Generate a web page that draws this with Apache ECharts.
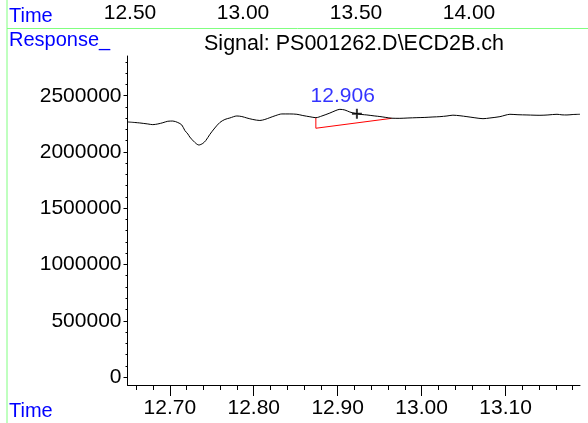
<!DOCTYPE html>
<html><head><meta charset="utf-8">
<script src="https://cdn.jsdelivr.net/npm/echarts@6/dist/echarts.min.js"></script>
<style>html,body{margin:0;padding:0;background:#fff}#c{width:588px;height:423px}</style>
</head><body><div id="c"></div>
<script>
// ---- data ----
const times = [12.6496, 12.6583, 12.6642, 12.6738, 12.6797, 12.6857, 12.6917, 12.6976, 12.7036, 12.7095, 12.7143, 12.7179, 12.7215, 12.7238, 12.7298, 12.7346, 12.7393, 12.7429, 12.7477, 12.7536, 12.7596, 12.7656, 12.7715, 12.7799, 12.7858, 12.7918, 12.7989, 12.8073, 12.8132, 12.8192, 12.8263, 12.8335, 12.8430, 12.8514, 12.8585, 12.8669, 12.8740, 12.8812, 12.8907, 12.8979, 12.9026, 12.9086, 12.9145, 12.9217, 12.9288, 12.9348, 12.9443, 12.9503, 12.9574, 12.9646, 12.9741, 12.9837, 12.9944, 13.0039, 13.0135, 13.0218, 13.0302, 13.0373, 13.0457, 13.0540, 13.0635, 13.0731, 13.0814, 13.0933, 13.0993, 13.1052, 13.1148, 13.1255, 13.1339, 13.1410, 13.1505, 13.1613, 13.1672, 13.1732, 13.1803, 13.1887];
const response = [2267000, 2262000, 2258000, 2249000, 2243000, 2249000, 2260000, 2273000, 2275000, 2262000, 2240000, 2191000, 2160000, 2133000, 2085000, 2062000, 2076000, 2102000, 2156000, 2213000, 2262000, 2289000, 2302000, 2320000, 2315000, 2302000, 2289000, 2280000, 2289000, 2305000, 2324000, 2338000, 2338000, 2335000, 2324000, 2313000, 2305000, 2320000, 2346000, 2369000, 2379000, 2373000, 2355000, 2342000, 2333000, 2329000, 2320000, 2315000, 2307000, 2300000, 2299000, 2302000, 2305000, 2307000, 2311000, 2314000, 2320000, 2327000, 2322000, 2314000, 2304000, 2296000, 2302000, 2314000, 2326000, 2335000, 2331000, 2329000, 2327000, 2326000, 2329000, 2335000, 2330000, 2329000, 2333000, 2335000];
const baselineTimes = [12.874, 12.874, 12.9642];
const baselineValues = [2305000, 2211000, 2299000];
const peakLabel = '12.906';
const peakLabelTime = 12.906;
const peakLabelValue = 2497000;
const crossTime = 12.9229;
const crossValue = 2340000;
const xMajorTicks = [12.70, 12.80, 12.90, 13.00, 13.10];
const xMinorTicks = [12.66, 12.68, 12.72, 12.74, 12.76, 12.78, 12.82, 12.84, 12.86, 12.88, 12.92, 12.94, 12.96, 12.98, 13.02, 13.04, 13.06, 13.08, 13.12, 13.14, 13.16, 13.18];
const yMajorTicks = [0, 500000, 1000000, 1500000, 2000000, 2500000];
const yMinorTicks = [100000, 200000, 300000, 400000, 600000, 700000, 800000, 900000, 1100000, 1200000, 1300000, 1400000, 1600000, 1700000, 1800000, 1900000, 2100000, 2200000, 2300000, 2400000, 2600000, 2700000, 2800000];
const overviewTicks = [12.50, 13.00, 13.50, 14.00];
const titleText = 'Signal: PS001262.D\\ECD2B.ch';
const xName = 'Time';
const yName = 'Response_';

const X_MIN = 12.6496, X_MAX = 13.1887, Y_MIN = -71000, Y_MAX = 2853000;
const FONT = 'Liberation Sans, Arial, sans-serif';
const BLUE = '#0000ff';
const GREEN = '#80ff80';

const chart = echarts.init(document.getElementById('c'), null, {renderer: 'canvas'});
const axisLineStyle = {color: '#000', width: 1};
const xBase = {type: 'value', gridIndex: 0, min: X_MIN, max: X_MAX, position: 'bottom', offset: 0, splitLine: {show: false}};
const yBase = {type: 'value', gridIndex: 0, min: Y_MIN, max: Y_MAX, position: 'left', offset: 0, splitLine: {show: false}};

chart.setOption({
  animation: false,
  backgroundColor: '#fff',
  grid: [
    {left: 127.5, right: 8, top: 56, bottom: 38, containLabel: false},
    {left: 17, right: 6, top: 12, height: 1, containLabel: false}
  ],
  xAxis: [
    Object.assign({}, xBase, {
      axisLine: {show: true, onZero: false, lineStyle: axisLineStyle},
      axisTick: {show: true, inside: false, length: 11, customValues: xMajorTicks, lineStyle: {color: '#000'}},
      axisLabel: {show: true, customValues: xMajorTicks, margin: 13, color: '#000', fontSize: 21, fontFamily: FONT,
                  formatter: v => Number(v).toFixed(2)}
    }),
    Object.assign({}, xBase, {
      axisLine: {show: false, onZero: false},
      axisTick: {show: true, inside: false, length: 5, customValues: xMinorTicks, lineStyle: {color: '#000'}},
      axisLabel: {show: false}
    }),
    {type: 'value', gridIndex: 1, min: 12.0, max: 14.5, position: 'bottom',
     axisLine: {show: false}, axisTick: {show: false}, splitLine: {show: false},
     axisLabel: {show: true, customValues: overviewTicks, margin: 0, verticalAlign: 'middle', color: '#000', fontSize: 21, fontFamily: FONT,
                 formatter: v => Number(v).toFixed(2)}}
  ],
  yAxis: [
    Object.assign({}, yBase, {
      axisLine: {show: true, onZero: false, lineStyle: axisLineStyle},
      axisTick: {show: true, inside: false, length: 4, customValues: yMajorTicks, lineStyle: {color: '#000'}},
      axisLabel: {show: true, customValues: yMajorTicks, margin: 6, color: '#000', fontSize: 21, fontFamily: FONT,
                  formatter: v => String(Math.round(v))}
    }),
    Object.assign({}, yBase, {
      axisLine: {show: false, onZero: false},
      axisTick: {show: true, inside: false, length: 2, customValues: yMinorTicks, lineStyle: {color: '#000'}},
      axisLabel: {show: false}
    }),
    {type: 'value', gridIndex: 1, show: false, min: 0, max: 1}
  ],
  series: [
    {type: 'line', xAxisIndex: 0, yAxisIndex: 0, data: times.map((t, i) => [t, response[i]]),
     symbol: 'none', smooth: 0.3, lineStyle: {color: '#000', width: 1}, silent: true, z: 3},
    {type: 'line', xAxisIndex: 0, yAxisIndex: 0, data: baselineTimes.map((t, i) => [t, baselineValues[i]]),
     symbol: 'none', lineStyle: {color: '#ff0000', width: 1}, silent: true, z: 2},
    {type: 'scatter', xAxisIndex: 0, yAxisIndex: 0, data: [[crossTime, crossValue]],
     symbol: 'path://M4,0h2v10h-2zM0,4h10v2h-10z', symbolSize: 10, itemStyle: {color: '#000'}, silent: true, z: 4},
    {type: 'scatter', xAxisIndex: 0, yAxisIndex: 0, data: [[peakLabelTime, peakLabelValue]],
     symbolSize: 0, silent: true, z: 5,
     label: {show: true, position: 'inside', formatter: peakLabel, color: BLUE, fontSize: 21, fontFamily: FONT}}
  ],
  graphic: [
    {type: 'line', shape: {x1: 7, y1: 0, x2: 7, y2: 423}, style: {stroke: GREEN, lineWidth: 1}, silent: true},
    {type: 'line', shape: {x1: 7, y1: 28.5, x2: 588, y2: 28.5}, style: {stroke: GREEN, lineWidth: 1}, silent: true},
    {type: 'text', x: 9, y: 16.5, style: {text: xName, fill: BLUE, font: '20px ' + FONT, textVerticalAlign: 'middle', verticalAlign: 'middle'}, silent: true},
    {type: 'text', x: 9, y: 40, style: {text: yName, fill: BLUE, font: '20px ' + FONT, textVerticalAlign: 'middle', verticalAlign: 'middle'}, silent: true},
    {type: 'text', x: 354, y: 43.8, style: {text: titleText, fill: '#000', font: '21.5px ' + FONT, textAlign: 'center', align: 'center', textVerticalAlign: 'middle', verticalAlign: 'middle'}, silent: true},
    {type: 'text', x: 9, y: 411, style: {text: xName, fill: BLUE, font: '20px ' + FONT, textVerticalAlign: 'middle', verticalAlign: 'middle'}, silent: true}
  ]
});
</script></body></html>
